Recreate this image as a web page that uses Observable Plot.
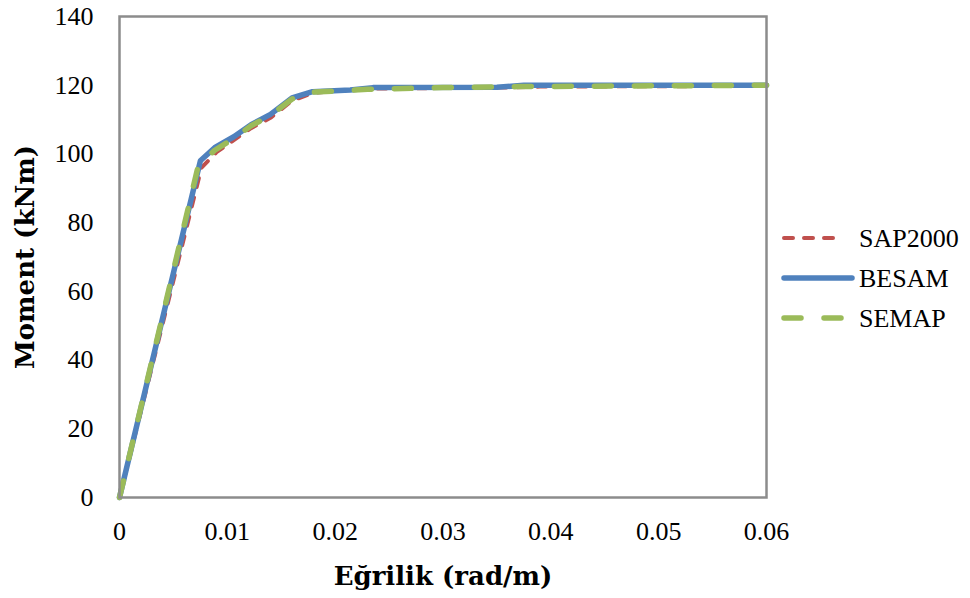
<!DOCTYPE html>
<html>
<head>
<meta charset="utf-8">
<script src="https://cdn.jsdelivr.net/npm/d3@7"></script>
<script src="https://cdn.jsdelivr.net/npm/@observablehq/plot@0.6"></script>
<style>
  html, body { margin: 0; padding: 0; background: #fff; }
  #wrap { position: relative; width: 970px; height: 598px; }
  #legend { position: absolute; left: 0; top: 0; }
</style>
</head>
<body>
<div id="wrap"></div>
<script>
// ---- Data ----
const seriesNames = ["SAP2000", "BESAM", "SEMAP"];
const seriesColors = ["#C0504D", "#4F81BD", "#9BBB59"];

const sapCurvature   = [0, 0.0076, 0.0090, 0.0106, 0.0122, 0.0140, 0.0160, 0.0180, 0.0230, 0.0350, 0.0390, 0.0600];
const sapMoment      = [0, 96, 100.5, 104, 107.5, 110.5, 115.5, 117.8, 119.0, 119.3, 119.6, 119.8];

const besamCurvature = [0, 0.0075, 0.0089, 0.0106, 0.0122, 0.0140, 0.0160, 0.0179, 0.0214, 0.0235, 0.0350, 0.0375, 0.0600];
const besamMoment    = [0, 98, 102, 105, 108.5, 111.5, 116.3, 118.1, 118.6, 119.3, 119.4, 120, 120];

const semapCurvature = [0, 0.0073, 0.0088, 0.0106, 0.0122, 0.0140, 0.0160, 0.0180, 0.0230, 0.0300, 0.0370, 0.0600];
const semapMoment    = [0, 96.5, 101, 104.5, 108.2, 111.2, 116, 118, 118.8, 119.3, 119.6, 120];

const xTicks = [0, 0.01, 0.02, 0.03, 0.04, 0.05, 0.06];
const xTickLabels = ["0", "0.01", "0.02", "0.03", "0.04", "0.05", "0.06"];
const yTicks = [0, 20, 40, 60, 80, 100, 120, 140];

const xTitle = "Eğrilik (rad/m)";
const yTitle = "Moment (kNm)";

// ---- Build tables ----
const toRows = (xs, ys) => xs.map((x, i) => ({x, y: ys[i]}));
const sapRows = toRows(sapCurvature, sapMoment);
const besamRows = toRows(besamCurvature, besamMoment);
const semapRows = toRows(semapCurvature, semapMoment);

const serif = "'Liberation Serif', 'Times New Roman', serif";
const boldSerif = "'DejaVu Serif', serif";

const chart = Plot.plot({
  width: 970,
  height: 598,
  marginLeft: 119,
  marginRight: 204,
  marginTop: 16,
  marginBottom: 101,
  style: {fontFamily: serif, fontSize: "26px", color: "#000", background: "#fff", overflow: "visible"},
  x: {domain: [0, 0.06]},
  y: {domain: [0, 140]},
  marks: [
    Plot.axisX({ticks: xTicks, tickFormat: (d) => xTickLabels[xTicks.indexOf(d)] ?? String(d), tickSize: 0, tickPadding: 24, label: null, fontSize: 26, fontFamily: serif}),
    Plot.axisY({ticks: yTicks, tickFormat: (d) => String(d), tickSize: 0, tickPadding: 26, label: null, fontSize: 26, fontFamily: serif}),
    Plot.line(sapRows, {x: "x", y: "y", stroke: seriesColors[0], strokeWidth: 4, strokeDasharray: "9,11", strokeLinecap: "round", strokeLinejoin: "round"}),
    Plot.line(besamRows, {x: "x", y: "y", stroke: seriesColors[1], strokeWidth: 5.5, strokeLinecap: "round", strokeLinejoin: "round"}),
    Plot.line(semapRows, {x: "x", y: "y", stroke: seriesColors[2], strokeWidth: 5.5, strokeDasharray: "17,23", strokeLinecap: "round", strokeLinejoin: "round"}),
    Plot.frame({stroke: "#8c8c8c", strokeWidth: 2.5}),
    Plot.text([xTitle], {frameAnchor: "bottom", textAnchor: "middle", lineAnchor: "middle", dy: 79, text: (d) => d, fontSize: 26, fontWeight: "bold", fontFamily: boldSerif, fill: "#000"}),
    Plot.text([yTitle], {frameAnchor: "left", textAnchor: "middle", lineAnchor: "middle", dx: -94, rotate: -90, text: (d) => d, fontSize: 26, fontWeight: "bold", fontFamily: boldSerif, fill: "#000"})
  ]
});

const wrap = document.getElementById("wrap");
wrap.appendChild(chart);

// ---- Legend ----
const legendItems = [
  {name: seriesNames[0], color: seriesColors[0], width: 4, dash: "9,11", y: 238, x2: 843},
  {name: seriesNames[1], color: seriesColors[1], width: 5.5, dash: null, y: 278, x2: 852},
  {name: seriesNames[2], color: seriesColors[2], width: 5.5, dash: "17,23", y: 318, x2: 843}
];
const lg = d3.create("svg")
  .attr("id", "legend")
  .attr("width", 970)
  .attr("height", 598)
  .style("pointer-events", "none");
for (const it of legendItems) {
  lg.append("line")
    .attr("x1", 784).attr("x2", it.x2)
    .attr("y1", it.y).attr("y2", it.y)
    .attr("stroke", it.color)
    .attr("stroke-width", it.width)
    .attr("stroke-linecap", "round")
    .attr("stroke-dasharray", it.dash);
  lg.append("text")
    .attr("x", 859).attr("y", it.y)
    .attr("dy", "0.33em")
    .attr("font-family", serif)
    .attr("font-size", 26)
    .attr("fill", "#000")
    .text(it.name);
}
wrap.appendChild(lg.node());
</script>
</body>
</html>
